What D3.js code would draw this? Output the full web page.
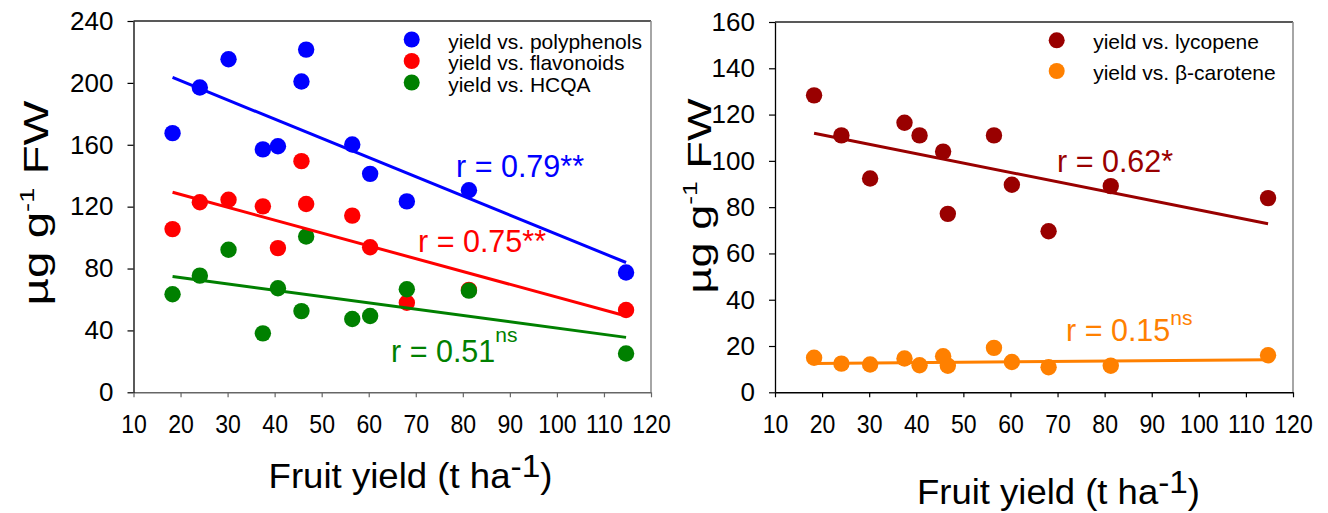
<!DOCTYPE html>
<meta charset="utf-8">
<script src="https://d3js.org/d3.v7.min.js"></script>
<style>
  body { margin: 0; background: #fff; }
  text { font-family: "Liberation Sans", Arial, sans-serif; fill: #000; }
</style>
<div id="chart"></div>
<script>
  // fruit yield (t ha-1) of the 12 samples, same for both panels
  var yieldX = [18.3, 24.1, 30.2, 37.5, 40.7, 45.7, 46.7, 56.5, 60.3, 68.1, 81.3, 114.7];

  // left panel, ug/g FW
  var polyphenols = [167.5, 197, 215.3, 157, 159, 200.9, 221.5, 160.2, 141.2, 123.4, 130.6, 77.4];
  var flavonoids  = [105.5, 122.8, 124.5, 120.2, 93.2, 149.4, 121.7, 114.2, 93.8, 57.9, 66.2, 53.2];
  var hcqa        = [63.4, 75.4, 92.1, 38.1, 67.3, 52.5, 100.7, 47.4, 49.3, 66.6, 65.7, 25.1];

  // right panel, ug/g FW
  var lycopene     = [128.3, 111, 92.4, 116.5, 111, 104, 77.1, 111, 89.7, 69.6, 89.1, 83.9];
  var betaCarotene = [14.9, 12.4, 12, 14.6, 11.7, 15.6, 11.5, 19.2, 13.1, 10.8, 11.5, 16];

  // regression lines: fitted value at first and last yield
  var fitX = [18.3, 114.7];
  var polyFit = [203.5, 83.9];
  var flavFit = [129.3, 49.3];
  var hcqaFit = [74.8, 35.5];
  var lycoFit = [111.9, 72.8];
  var caroFit = [12.4, 14.1];

  // correlation labels
  var rPoly = "r = 0.79**", rFlav = "r = 0.75**", rHcqa = "r = 0.51", rLyco = "r = 0.62*", rCaro = "r = 0.15";
  var nsMark = "ns";

  var xTicks = d3.range(10, 121, 10);
  var yTicksLeft = d3.range(0, 241, 40);
  var yTicksRight = d3.range(0, 161, 20);

  var svg = d3.select("#chart")
    .append("svg")
      .attr("width", 1328)
      .attr("height", 513);

  svg.append("rect").attr("width", 1328).attr("height", 513).attr("fill", "white");

  // stretch a text horizontally so it fills a given width
  function fitWidth(t, w, x, y, extra) {
    var bw = t.node().getBBox().width;
    t.attr("transform", "translate(" + x + "," + y + ")" + (extra || "") + " scale(" + (w / bw) + ",1)");
  }

  function panel(xRange, yMax, yRange, yTicks, bottomColor) {
    var x = d3.scaleLinear().domain([10, 120]).range(xRange);
    var y = d3.scaleLinear().domain([0, yMax]).range(yRange);

    // frame top and right
    svg.append("line")
      .attr("x1", xRange[0]).attr("x2", xRange[1])
      .attr("y1", yRange[1]).attr("y2", yRange[1])
      .attr("stroke", "#222").attr("stroke-width", 1.3);
    svg.append("line")
      .attr("x1", xRange[1]).attr("x2", xRange[1])
      .attr("y1", yRange[1]).attr("y2", yRange[0])
      .attr("stroke", "#888").attr("stroke-width", 1.5);

    var gx = svg.append("g")
      .attr("transform", "translate(0," + yRange[0] + ")")
      .call(d3.axisBottom(x).tickValues(xTicks).tickSize(5).tickSizeOuter(0));
    gx.select(".domain").attr("stroke", bottomColor).attr("stroke-width", 1.5);
    gx.selectAll(".tick line").attr("stroke", bottomColor).attr("stroke-width", 1.2);
    gx.selectAll(".tick text")
      .attr("y", 22).attr("dy", "0.71em")
      .attr("transform", "scale(0.87,1)")
      .style("font-size", "26.5px")
      .style("font-family", '"Liberation Sans", Arial, sans-serif');

    var gy = svg.append("g")
      .attr("transform", "translate(" + xRange[0] + ",0)")
      .call(d3.axisLeft(y).tickValues(yTicks).tickSize(6).tickPadding(14).tickSizeOuter(0));
    gy.select(".domain").attr("stroke", "#000").attr("stroke-width", 1.3);
    gy.selectAll(".tick line").attr("stroke", "#000").attr("stroke-width", 1.2);
    gy.selectAll(".tick text")
      .style("font-size", "26px")
      .style("font-family", '"Liberation Sans", Arial, sans-serif');

    return {x: x, y: y};
  }

  function dots(p, vals, color) {
    svg.append("g")
      .selectAll("circle")
      .data(vals)
      .enter()
      .append("circle")
        .attr("cx", function (d, i) { return p.x(yieldX[i]); })
        .attr("cy", function (d) { return p.y(d); })
        .attr("r", 8.2)
        .attr("fill", color);
  }

  function fitLine(p, fit, color) {
    svg.append("line")
      .attr("x1", p.x(fitX[0])).attr("x2", p.x(fitX[1]))
      .attr("y1", p.y(fit[0])).attr("y2", p.y(fit[1]))
      .attr("stroke", color).attr("stroke-width", 3);
  }

  function rLabel(txt, sup, x, y, color, supDy) {
    var t = svg.append("text")
      .attr("x", x).attr("y", y)
      .style("font-size", "30.5px")
      .style("fill", color)
      .text(txt);
    if (sup) {
      t.append("tspan").attr("dy", supDy).style("font-size", "21px").text(sup);
    }
  }

  function legend(items, x, y0, step) {
    items.forEach(function (it, i) {
      svg.append("circle")
        .attr("cx", x).attr("cy", y0 + i * step - 9)
        .attr("r", 8).attr("fill", it[1]);
      svg.append("text")
        .attr("x", x + 36.5).attr("y", y0 + i * step)
        .style("font-size", "21px")
        .text(it[0]);
    });
  }

  function xTitle(cx, y, w) {
    var t = svg.append("text")
      .attr("text-anchor", "middle")
      .style("font-size", "35px");
    t.append("tspan").text("Fruit yield (t ha");
    t.append("tspan").attr("dy", -11).style("font-size", "32px").text("-1");
    t.append("tspan").attr("dy", 11).text(")");
    fitWidth(t, w, cx, y);
  }

  function yTitle(x, cy, h, size) {
    var t = svg.append("text")
      .attr("text-anchor", "middle")
      .style("font-size", size + "px");
    t.append("tspan").text("\u00b5g g");
    t.append("tspan").attr("dy", -14).style("font-size", "20px").text("-1");
    t.append("tspan").attr("dy", 14).text(" FW");
    fitWidth(t, h, x, cy, " rotate(-90)");
  }

  // ---- left panel: phenolics
  var L = panel([133.5, 651], 240, [392.3, 21], yTicksLeft, "#666");
  dots(L, polyphenols, "#0000ff");
  dots(L, flavonoids, "#ff0000");
  dots(L, hcqa, "#008000");
  fitLine(L, polyFit, "#0000ff");
  fitLine(L, flavFit, "#ff0000");
  fitLine(L, hcqaFit, "#008000");
  rLabel(rPoly, null, 456, 177, "#0000ff");
  rLabel(rFlav, null, 418, 252, "#ff0000");
  rLabel(rHcqa, nsMark, 391, 362, "#008000", -20);
  legend([["yield vs. polyphenols", "#0000ff"], ["yield vs. flavonoids", "#ff0000"], ["yield vs. HCQA", "#008000"]], 411.7, 48.5, 21.5);
  xTitle(410.5, 488, 284);
  yTitle(48, 203, 205, 35);

  // ---- right panel: carotenoids
  var R = panel([775, 1293], 160, [392.3, 22], yTicksRight, "#000");
  dots(R, lycopene, "#990000");
  dots(R, betaCarotene, "#ff8000");
  fitLine(R, lycoFit, "#990000");
  fitLine(R, caroFit, "#ff8000");
  rLabel(rLyco, null, 1057, 172, "#990000");
  rLabel(rCaro, nsMark, 1066, 341, "#ff8000", -16);
  legend([["yield vs. lycopene", "#990000"], ["yield vs. \u03b2-carotene", "#ff8000"]], 1056.7, 49.3, 30.7);
  xTitle(1058.5, 504, 283);
  yTitle(711, 196, 195, 34);
</script>
